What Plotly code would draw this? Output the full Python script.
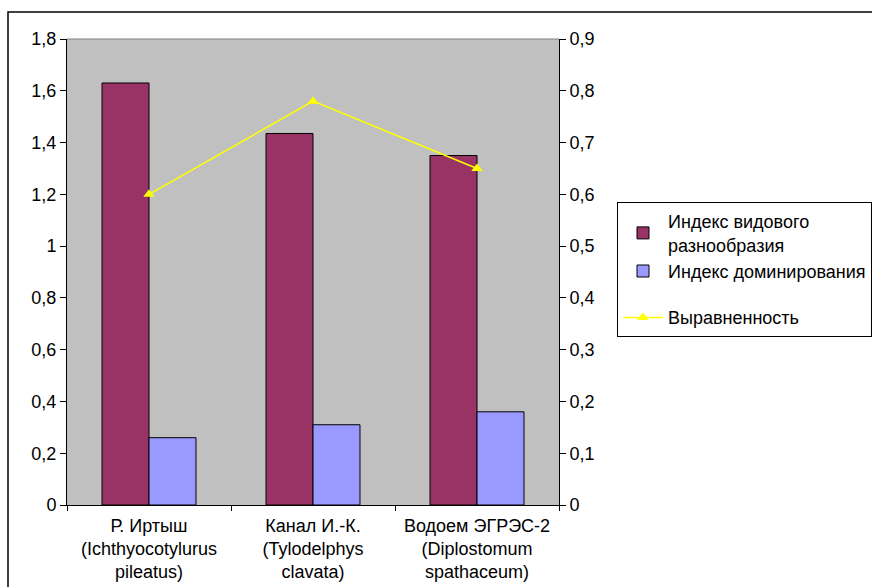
import plotly.graph_objects as go

categories = [
    "Р. Иртыш<br>(Ichthyocotylurus<br>pileatus)",
    "Канал И.-К.<br>(Tylodelphys<br>clavata)",
    "Водоем ЭГРЭС-2<br>(Diplostomum<br>spathaceum)",
]
diversity = [1.63, 1.435, 1.35]
dominance = [0.26, 0.31, 0.36]
evenness = [0.60, 0.78, 0.65]

names = ["Индекс видового<br>разнообразия", "Индекс доминирования", "Выравненность"]

FONT = "Liberation Sans, Arial, sans-serif"
FS = 18

fig = go.Figure()
fig.add_trace(go.Bar(x=categories, y=diversity, name=names[0],
                     marker=dict(color="#993366", line=dict(color="black", width=1)),
                     legendgroup="a"))
fig.add_trace(go.Bar(x=categories, y=dominance, name=names[1],
                     marker=dict(color="#9999FF", line=dict(color="black", width=1)),
                     legendgroup="a"))
fig.add_trace(go.Scatter(x=categories, y=evenness, name=names[2], yaxis="y2",
                         mode="lines+markers",
                         line=dict(color="#FFFF00", width=1.5),
                         marker=dict(symbol="triangle-up", size=10, color="#FFFF00"),
                         legendgroup="b"))

W, H = 872, 587
L, R, T, B = 67, 559, 39, 505

fig.update_layout(
    width=W, height=H,
    margin=dict(l=L, r=W - R, t=T, b=H - B, pad=0, autoexpand=False),
    paper_bgcolor="white",
    plot_bgcolor="#C0C0C0",
    separators=", ",
    font=dict(family=FONT, size=FS, color="black"),
    barmode="group",
    bargap=0.427,
    bargroupgap=0,
    showlegend=True,
    legend=dict(
        x=(617 - L) / (R - L), y=(B - 202) / (B - T),
        xanchor="left", yanchor="top",
        bgcolor="white", bordercolor="black", borderwidth=1,
        font=dict(family=FONT, size=FS, color="black"),
        traceorder="grouped", tracegroupgap=20,
        itemwidth=40,
    ),
    xaxis=dict(
        showline=True, linecolor="black", linewidth=1,
        ticks="outside", ticklen=5, tickcolor="black",
        tickson="boundaries", showgrid=False, automargin=False,
        ticklabelstandoff=4,
        tickfont=dict(family=FONT, size=FS),
    ),
    yaxis=dict(
        range=[0, 1.8], dtick=0.2, tick0=0,
        showline=True, linecolor="black", linewidth=1,
        ticks="outside", ticklen=6, tickcolor="black",
        showgrid=False, zeroline=False, automargin=False,
        tickfont=dict(family=FONT, size=FS),
    ),
    yaxis2=dict(
        range=[0, 0.9], dtick=0.1, tick0=0,
        overlaying="y", side="right",
        showline=True, linecolor="black", linewidth=1,
        ticks="outside", ticklen=6, tickcolor="black",
        showgrid=False, zeroline=False, automargin=False,
        tickfont=dict(family=FONT, size=FS),
    ),
    shapes=[
        dict(type="line", xref="paper", yref="paper",
             x0=0, x1=1, y0=1, y1=1, line=dict(color="#808080", width=1)),
        dict(type="rect", xref="paper", yref="paper",
             x0=(8 - L) / (R - L), x1=(W + 20 - L) / (R - L),
             y0=(B - (H + 20)) / (B - T), y1=(B - 12) / (B - T),
             line=dict(color="black", width=1.5), fillcolor="rgba(0,0,0,0)",
             layer="above"),
    ],
)

fig.write_html("out.html")
